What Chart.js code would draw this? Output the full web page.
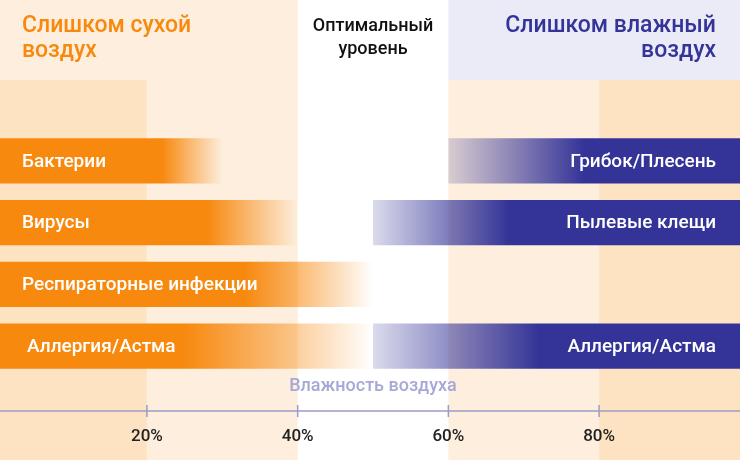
<!DOCTYPE html>
<html>
<head>
<meta charset="utf-8">
<script src="https://cdn.jsdelivr.net/npm/chart.js@4"></script>
<style>
  html, body { margin: 0; padding: 0; background: #fff; }
  #wrap { width: 740px; height: 460px; }
</style>
</head>
<body>
<div id="wrap"><canvas id="chart"></canvas></div>
<script>
// data
const rows = ['r1', 'r2', 'r3', 'r4']
const dryLabels = ['Бактерии', 'Вирусы', 'Респираторные инфекции', 'Аллергия/Астма']
const dryEnd = [30, 40, 50, 50]
const dryFade = [[22, 30], [28, 40], [33, 50], [25, 50]]
const wetLabels = ['Грибок/Плесень', 'Пылевые клещи', '', 'Аллергия/Астма']
const wetStart = [60, 50, null, 50]
const wetFade = [[60, 78], [50, 68], null, [50, 72]]
const tickValues = [20, 40, 60, 80]
const tickLabels = ['20%', '40%', '60%', '80%']
const xMin = 0.5, xMax = 98.7

const FONT = 'Roboto, "Noto Sans", sans-serif'
const ORANGE = [247, 137, 15]
const BLUE = [52, 52, 152]

function fadeFill(context, fades, rgb, reverse) {
    const chart = context.chart
    const fade = fades[context.dataIndex]
    if (!chart.chartArea || !fade) return 'transparent'
    const x = chart.scales.x
    const g = chart.ctx.createLinearGradient(x.getPixelForValue(fade[0]), 0, x.getPixelForValue(fade[1]), 0)
    const c = rgb.join(',')
    if (reverse) {
        g.addColorStop(0, 'rgba(' + c + ',0.18)')
        g.addColorStop(1, 'rgba(' + c + ',1)')
    } else {
        g.addColorStop(0, 'rgba(' + c + ',1)')
        g.addColorStop(1, 'rgba(' + c + ',0)')
    }
    return g
}

const backdrop = {
    id: 'backdrop',
    beforeDraw(chart) {
        const ctx = chart.ctx, x = chart.scales.x
        const px = v => x.getPixelForValue(v)
        const W = chart.width, H = chart.height
        ctx.save()
        // header bands
        ctx.fillStyle = '#fdeedd'
        ctx.fillRect(0, 0, px(40), 80)
        ctx.fillStyle = '#ebebf7'
        ctx.fillRect(px(60), 0, W - px(60), 80)
        // lower bands
        ctx.fillStyle = '#fde3c2'
        ctx.fillRect(0, 80, px(20), H - 80)
        ctx.fillRect(px(80), 80, W - px(80), H - 80)
        ctx.fillStyle = '#fdeedd'
        ctx.fillRect(px(20), 80, px(40) - px(20), H - 80)
        ctx.fillRect(px(60), 80, px(80) - px(60), H - 80)
        // header text
        ctx.font = '500 23px ' + FONT
        ctx.textBaseline = 'alphabetic'
        ctx.fillStyle = '#f7890f'
        ctx.textAlign = 'left'
        ctx.fillText('Слишком сухой', 22, 32)
        ctx.fillText('воздух', 22, 57)
        ctx.fillStyle = '#343498'
        ctx.textAlign = 'right'
        ctx.fillText('Слишком влажный', 716, 32)
        ctx.fillText('воздух', 716, 57)
        ctx.font = '500 18px ' + FONT
        ctx.fillStyle = '#111'
        ctx.textAlign = 'center'
        ctx.fillText('Оптимальный', px(50), 31)
        ctx.fillText('уровень', px(50), 54)
        ctx.restore()
    },
    afterDraw(chart) {
        const ctx = chart.ctx, x = chart.scales.x
        ctx.save()
        // bar labels
        ctx.font = '500 19px ' + FONT
        ctx.fillStyle = '#fff'
        ctx.textBaseline = 'middle'
        chart.getDatasetMeta(0).data.forEach((bar, i) => {
            ctx.textAlign = 'left'
            ctx.fillText(dryLabels[i], i === 3 ? 27 : 22, bar.y + 1)
        })
        chart.getDatasetMeta(1).data.forEach((bar, i) => {
            if (!wetLabels[i]) return
            ctx.textAlign = 'right'
            ctx.fillText(wetLabels[i], 716, bar.y + 1)
        })
        // axis
        const axisY = 411
        ctx.strokeStyle = '#9c9cc8'
        ctx.lineWidth = 1.5
        ctx.beginPath()
        ctx.moveTo(0, axisY)
        ctx.lineTo(chart.width, axisY)
        tickValues.forEach(v => {
            const p = x.getPixelForValue(v)
            ctx.moveTo(p, axisY - 6)
            ctx.lineTo(p, axisY + 6)
        })
        ctx.stroke()
        ctx.fillStyle = '#222'
        ctx.font = '500 17px ' + FONT
        ctx.textAlign = 'center'
        tickValues.forEach((v, i) => ctx.fillText(tickLabels[i], x.getPixelForValue(v), 437))
        ctx.fillStyle = '#a8a8d8'
        ctx.font = '500 18px ' + FONT
        ctx.fillText('Влажность воздуха', x.getPixelForValue(50), 386)
        ctx.restore()
    }
}

new Chart(document.getElementById('chart'), {
    type: 'bar',
    data: {
        labels: rows,
        datasets: [{
            data: dryEnd.map(v => [xMin - 1, v]),
            backgroundColor: c => fadeFill(c, dryFade, ORANGE, false),
            grouped: false
        }, {
            data: wetStart.map(v => v === null ? null : [v, xMax + 1]),
            backgroundColor: c => fadeFill(c, wetFade, BLUE, true),
            grouped: false
        }]
    },
    options: {
        indexAxis: 'y',
        responsive: true,
        maintainAspectRatio: false,
        animation: false,
        layout: { padding: { top: 130, bottom: 83, left: 0, right: 0 } },
        categoryPercentage: 1,
        barPercentage: 0.73,
        scales: {
            x: { display: false, min: xMin, max: xMax },
            y: { display: false }
        },
        plugins: { legend: { display: false }, tooltip: { enabled: false } }
    },
    plugins: [backdrop]
})
</script>
</body>
</html>
